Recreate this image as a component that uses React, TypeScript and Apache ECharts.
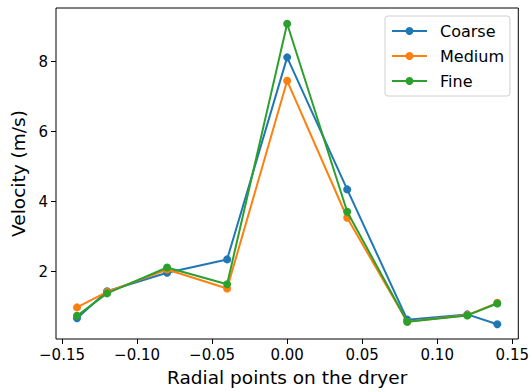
import React, { useEffect, useRef } from "react";
import * as echarts from "echarts";

const radialPoints = [-0.14, -0.12, -0.08, -0.04, 0, 0.04, 0.08, 0.12, 0.14];
const coarse = [0.67, 1.44, 1.97, 2.35, 8.12, 4.35, 0.63, 0.78, 0.5];
const medium = [0.98, 1.42, 2.06, 1.52, 7.45, 3.54, 0.57, 0.76, 1.11];
const fine = [0.74, 1.38, 2.12, 1.64, 9.08, 3.71, 0.57, 0.75, 1.09];
const xTicks = [-0.15, -0.1, -0.05, 0, 0.05, 0.1, 0.15];
const yTicks = [2, 4, 6, 8];
const seriesNames = ["Coarse", "Medium", "Fine"];
const colors = ["#1f77b4", "#ff7f0e", "#2ca02c"];

const FONT = "DejaVu Sans";

export default function App() {
  const ref = useRef<HTMLDivElement>(null);
  useEffect(() => {
    if (!ref.current) return;
    const chart = echarts.init(ref.current, undefined, { renderer: "svg" });
    const all = [coarse, medium, fine];
    const fmtX = (v: number) => {
      const s = Math.abs(v).toFixed(2);
      return v < -1e-9 ? "\u2212" + s : s;
    };
    chart.setOption({
      animation: false,
      backgroundColor: "#ffffff",
      color: colors,
      grid: {
        left: 56,
        right: 12,
        top: 8,
        bottom: 53,
        show: true,
        borderColor: "#000000",
        borderWidth: 1,
        backgroundColor: "transparent",
      },
      legend: {
        orient: "vertical",
        left: 385,
        top: 16,
        width: 126,
        padding: [7, 6, 7, 6],
        itemGap: 9,
        itemWidth: 35,
        itemHeight: 10,
        borderColor: "#d0d0d0",
        borderWidth: 1,
        borderRadius: 3,
        backgroundColor: "rgba(255,255,255,0.8)",
        textStyle: {
          fontFamily: FONT,
          fontSize: 16,
          color: "#000000",
          padding: [0, 0, 0, 8],
          lineHeight: 16,
        },
        data: seriesNames,
      },
      xAxis: {
        type: "value",
        min: -0.154,
        max: 0.154,
        splitLine: { show: false },
        axisLine: { show: false, onZero: false },
        axisTick: {
          show: true,
          customValues: xTicks,
          length: 5,
          lineStyle: { color: "#000000", width: 1 },
        },
        axisLabel: {
          customValues: xTicks,
          formatter: (v: number) => fmtX(v),
          fontFamily: FONT,
          fontSize: 15,
          color: "#000000",
          margin: 8,
        },
        name: "Radial points on the dryer",
        nameLocation: "middle",
        nameGap: 29,
        nameTextStyle: { fontFamily: FONT, fontSize: 18.5, color: "#000000" },
      },
      yAxis: {
        type: "value",
        min: 0.077,
        max: 9.53,
        splitLine: { show: false },
        axisLine: { show: false, onZero: false },
        axisTick: {
          show: true,
          customValues: yTicks,
          length: 5,
          lineStyle: { color: "#000000", width: 1 },
        },
        axisLabel: {
          customValues: yTicks,
          formatter: (v: number) => String(Math.round(v)),
          fontFamily: FONT,
          fontSize: 15,
          color: "#000000",
          margin: 8,
        },
        name: "Velocity (m/s)",
        nameLocation: "middle",
        nameGap: 28,
        nameRotate: 90,
        nameTextStyle: { fontFamily: FONT, fontSize: 18.5, color: "#000000" },
      },
      series: seriesNames.map((name, i) => ({
        name,
        type: "line",
        data: radialPoints.map((x, j) => [x, all[i][j]]),
        symbol: "circle",
        symbolSize: 8,
        showSymbol: true,
        lineStyle: { width: 2, color: colors[i] },
        itemStyle: { color: colors[i] },
        z: 2 + i,
      })),
    });
    return () => chart.dispose();
  }, []);
  return (
    <div
      ref={ref}
      style={{ position: "fixed", left: 0, top: 0, width: 532, height: 392 }}
    />
  );
}
